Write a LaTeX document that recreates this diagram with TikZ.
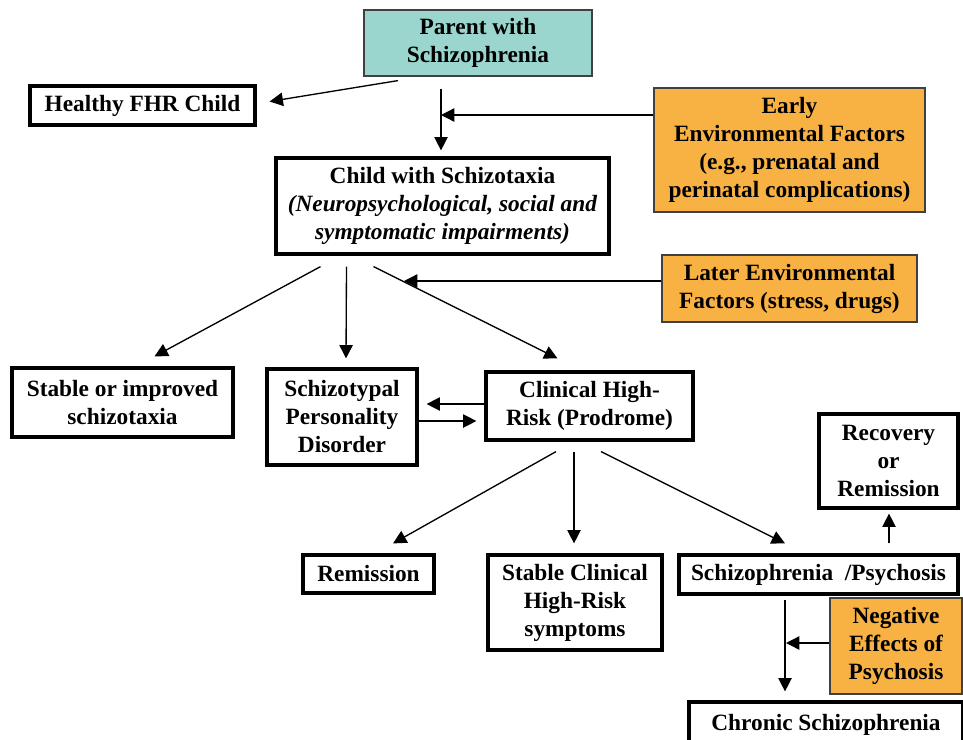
\documentclass[tikz,border=0pt]{standalone}
\usepackage{fontspec}
\setmainfont{Liberation Serif}
\usetikzlibrary{arrows.meta,positioning,calc}
\definecolor{parentfill}{RGB}{154,214,206}
\definecolor{envfill}{RGB}{248,177,67}
\tikzset{box/.style={draw, line width=2.4pt, align=center, inner sep=0pt, font=\fontsize{17.5}{21}\selectfont\bfseries},
  boxsize/.style 2 args={minimum width=#1*0.75pt, minimum height=#2*0.75pt},
  envbox/.style={box, draw=black!75, line width=0.9pt, fill=envfill},
  arr/.style={-{Triangle[length=10pt,width=10pt]}, line width=1pt}}

\begin{document}
\begin{tikzpicture}[x=0.75pt,y=-0.75pt]
   \useasboundingbox (0,0) rectangle (963,739);

   \node[box, draw=black!75, line width=0.9pt, fill=parentfill, boxsize={228}{66}] (parent) at (478,43) {Parent with\\Schizophrenia};
   \node[box, boxsize={225}{39}] (healthy) at (142.5,105.5) {Healthy FHR Child};
   \node[envbox, boxsize={271}{124}] (early) at (789.5,150) {Early\\Environmental Factors\\(e.g., prenatal and\\perinatal complications)};
   \node[box, boxsize={333}{96}] (child) at (442.5,206) {Child with Schizotaxia\\\textit{(Neuropsychological, social and}\\\textit{symptomatic impairments)}};
   \node[envbox, boxsize={255}{67}] (later) at (789.5,288.5) {Later Environmental\\Factors (stress, drugs)};

   \node[box, boxsize={221}{69}] (stable) at (122.5,402.5) {Stable or improved\\schizotaxia};
   \node[box, boxsize={150}{96}] (spd) at (342,417) {Schizotypal\\Personality\\Disorder};
   \node[box, boxsize={207}{68}] (chr) at (589.5,406) {Clinical High-\\Risk (Prodrome)};
   \node[box, boxsize={139}{94}] (recovery) at (888.5,461) {Recovery\\or\\Remission};

   \node[box, boxsize={131}{38}] (remission) at (368.5,574) {Remission};
   \node[box, boxsize={174}{95}] (stablechr) at (575,602.5) {Stable Clinical\\High-Risk\\symptoms};
   \node[box, boxsize={279}{39}] (psychosis) at (818.5,574.5) {Schizophrenia\ \ /Psychosis};
   \node[envbox, boxsize={132}{96}] (negative) at (896,646) {Negative\\Effects of\\Psychosis};
   \node[box, boxsize={274}{46}] (chronic) at (826,725) {Chronic Schizophrenia};

   % joins on the lines
   \coordinate (pc) at (441,115);
   \coordinate (lc) at (404,281);
   \coordinate (nc) at (786,643);

   \draw[arr] ($(parent.south)+(-80,4)$) -- ($(healthy.east)+(13,-4)$);
   \draw[arr] ($(parent.south)+(-37,12)$) -- ($(child.north)+(-1.5,-6)$);
   \draw[arr] (early.west |- pc) -- (pc);

   \draw[arr] ($(child.south)+(-122,11)$) -- ($(stable.north)+(32,-10)$);
   \draw[arr] ($(child.south)+(-96,11)$) -- ($(spd.north)+(4,-9)$);
   \draw[arr] ($(child.south)+(-69,11)$) -- ($(chr.north)+(-32,-12)$);
   \draw[arr] (later.west |- lc) -- (lc);

   \draw[arr] ($(chr.west)+(0,-2)$) -- ($(spd.east)+(8,-13)$);
   \draw[arr] ($(spd.east)+(0,4)$) -- ($(chr.west)+(-8,15)$);

   \draw[arr] ($(chr.south)+(-33.5,10)$) -- ($(remission.north)+(24.5,-10)$);
   \draw[arr] ($(chr.south)+(-15.5,10)$) -- ($(stablechr.north)+(-1,-10)$);
   \draw[arr] ($(chr.south)+(11.5,10)$) -- ($(psychosis.north)+(-33.5,-10)$);

   \draw[arr] ($(psychosis.north)+(70.5,-10)$) -- ($(recovery.south)+(0.5,4)$);
   \draw[arr] ($(psychosis.south)+(-33.5,4)$) -- ($(chronic.north)+(-41,-9)$);
   \draw[arr] (negative.west |- nc) -- (nc);
\end{tikzpicture}
\end{document}
